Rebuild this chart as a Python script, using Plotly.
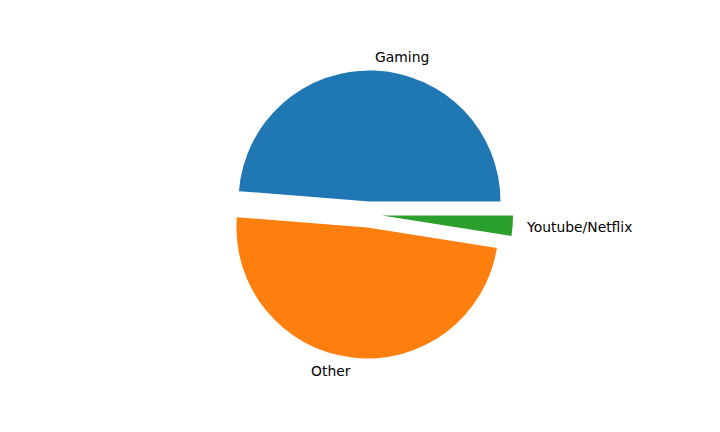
import math
import plotly.graph_objects as go

labels = ["Gaming", "Other", "Youtube/Netflix"]
values = [39, 39, 2]
colors = ["#1f77b4", "#ff7f0e", "#2ca02c"]
pulls = [0.1, 0.1, 0.1]

W, H = 720, 432
cx, cy = 369.0, 214.5   # pie centre in pixels (from top)
r = 131.0
box = r * (1 + max(pulls))

total = sum(values)
# Plotly (counterclockwise) places the first slice ending at `rotation`;
# make the first slice start at 3 o'clock like matplotlib's startangle=0.
rot = 90 - 360.0 * values[0] / total

fig = go.Figure(go.Pie(
    labels=labels, values=values, sort=False,
    direction="counterclockwise", rotation=rot,
    pull=pulls, textinfo="none", hoverinfo="label+percent",
    marker=dict(colors=colors, line=dict(width=0)),
    showlegend=False,
    domain=dict(x=[(cx - box) / W, (cx + box) / W],
                y=[(H - cy - box) / H, (H - cy + box) / H]),
))

start = 0.0
for lab, v, p in zip(labels, values, pulls):
    span = 360.0 * v / total
    mid = math.radians(start + span / 2)
    d = (p + 1.1) * r
    xp = cx + d * math.cos(mid)
    yp = cy - d * math.sin(mid)
    fig.add_annotation(
        x=xp / W, y=1 - yp / H, xref="paper", yref="paper",
        text=lab, showarrow=False, borderpad=0, borderwidth=0,
        xanchor="left" if math.cos(mid) > 0 else "right", yanchor="middle",
        font=dict(family="DejaVu Sans", size=13.9, color="#000000"),
    )
    start += span

fig.update_layout(
    width=W, height=H, margin=dict(l=0, r=0, t=0, b=0),
    paper_bgcolor="white", plot_bgcolor="white",
)
fig.write_html("out.html", config={"displayModeBar": False},
               post_script="document.body.style.margin='0';")
